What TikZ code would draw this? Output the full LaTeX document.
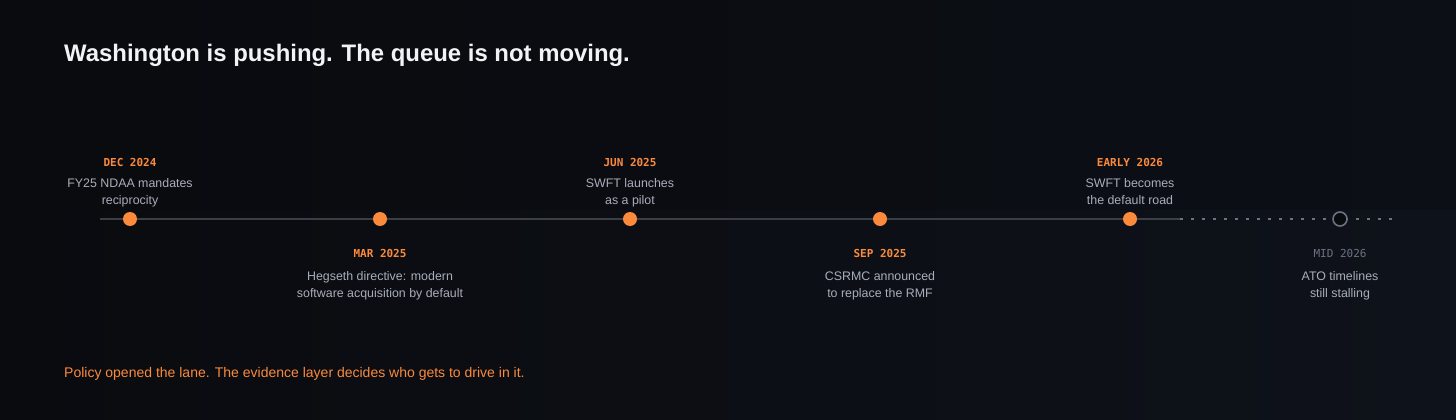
\documentclass[tikz,border=0pt]{standalone}
\usepackage{fontspec}
\setmainfont{Liberation Sans}
\newfontfamily\datefont{DejaVu Sans Mono}
\usetikzlibrary{positioning}
\definecolor{bgA}{HTML}{0A0B0F}
\definecolor{bgB}{HTML}{0E121A}
\definecolor{accent}{HTML}{FB8A3C}
\definecolor{txt}{HTML}{A8AEB9}
\definecolor{rule}{HTML}{3B3E45}
\definecolor{future}{HTML}{6B7280}
\definecolor{titlec}{HTML}{F2F3F5}
\tikzset{
  evdot/.style={circle,fill=accent,inner sep=0pt,minimum size=14pt},
  futdot/.style={circle,draw=future,line width=1.6pt,fill=bgA,inner sep=0pt,minimum size=14pt},
  datelbl/.style={font=\datefont\bfseries\fontsize{11}{13}\selectfont,text=accent,inner sep=0pt},
  futlbl/.style={font=\datefont\fontsize{11}{13}\selectfont,text=future,inner sep=0pt},
  desc/.style={font=\fontsize{12.4}{16.6}\selectfont,text=txt,align=center,inner sep=0pt},
}
\begin{document}
\begin{tikzpicture}[x=1pt,y=-1pt]
\shade[left color=bgA,right color=bgB] (0,0) rectangle (1456,420);
\fill[bgA,opacity=0.35] (0,0) rectangle (1456,210);
\useasboundingbox (0,0) rectangle (1456,420);
\node[anchor=base west,font=\bfseries\fontsize{23.9}{28}\selectfont,text=titlec,inner sep=0pt] (title) at (64,62) {Washington is pushing. The queue is not moving.};
% timeline
\coordinate (ls) at (100,219);
\coordinate (le) at (1180,219);
\coordinate (de) at (1392,219);
\draw[rule,line width=1.5pt] (ls) -- (le);
\draw[future,line width=1.5pt,dash pattern=on 3pt off 8pt] (le) -- (de);
\node[evdot] (e1) at (130,219) {};
\node[evdot] (e2) at (380,219) {};
\node[evdot] (e3) at (630,219) {};
\node[evdot] (e4) at (880,219) {};
\node[evdot] (e5) at (1130,219) {};
\node[futdot] (e6) at (1340,219) {};
% above labels (base = last line baseline)
\node[datelbl,anchor=base] (d1) at (130,166) {DEC 2024};
\node[desc,anchor=base] (t1) at (130,204.3) {FY25 NDAA mandates\\reciprocity};
\node[datelbl,anchor=base] (d3) at (630,166) {JUN 2025};
\node[desc,anchor=base] (t3) at (630,204.3) {SWFT launches\\as a pilot};
\node[datelbl,anchor=base] (d5) at (1130,166) {EARLY 2026};
\node[desc,anchor=base] (t5) at (1130,204.3) {SWFT becomes\\the default road};
% below labels
\node[datelbl,anchor=base] (d2) at (380,257.5) {MAR 2025};
\node[desc,anchor=base] (t2) at (380,297.3) {Hegseth directive: modern\\software acquisition by default};
\node[datelbl,anchor=base] (d4) at (880,257.5) {SEP 2025};
\node[desc,anchor=base] (t4) at (880,297.3) {CSRMC announced\\to replace the RMF};
\node[futlbl,anchor=base] (d6) at (1340,257.5) {MID 2026};
\node[desc,anchor=base] (t6) at (1340,297.3) {ATO timelines\\still stalling};
\node[anchor=base west,font=\fontsize{14}{17}\selectfont,text=accent,inner sep=0pt] (foot) at (64,377) {Policy opened the lane. The evidence layer decides who gets to drive in it.};
\end{tikzpicture}
\end{document}
